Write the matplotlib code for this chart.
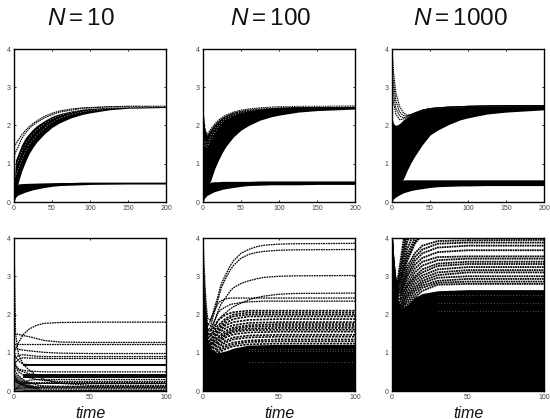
import numpy as np
import matplotlib
matplotlib.use('Agg')
import matplotlib.pyplot as plt

plt.rcParams['font.family'] = 'Liberation Sans'
plt.rcParams['mathtext.fontset'] = 'custom'
plt.rcParams['mathtext.rm'] = 'Liberation Sans'
plt.rcParams['mathtext.it'] = 'Liberation Sans:italic'

# time grids
t_top = [0, 2, 5, 10, 15, 20, 25, 30, 40, 50, 60, 75, 90, 100, 125, 150, 200]
t_low = [0, 1, 3, 6, 10, 15, 20, 30, 50, 100]
t_fine = [0, 1, 2, 3, 5, 7, 10, 12, 15, 18, 20, 25, 30, 35, 40, 50, 60, 100]

# top row: envelopes of the two bands
n10_upper_hi = [0.4, 1.1, 1.25, 1.5, 1.68, 1.8, 1.91, 2.0, 2.13, 2.24, 2.31, 2.38, 2.43, 2.45, 2.48, 2.49, 2.5]
n10_upper_lo = [0.3, 0.35, 0.47, 0.8, 1.05, 1.27, 1.43, 1.57, 1.78, 1.95, 2.07, 2.2, 2.29, 2.33, 2.41, 2.45, 2.47]
n10_lower_hi = [0.3, 0.4, 0.47, 0.48, 0.485, 0.49, 0.49, 0.495, 0.5, 0.505, 0.51, 0.51, 0.52, 0.52, 0.52, 0.52, 0.52]
n10_lower_lo = [0, 0.12, 0.18, 0.22, 0.26, 0.29, 0.32, 0.34, 0.38, 0.41, 0.43, 0.44, 0.45, 0.46, 0.465, 0.47, 0.47]
n10_curves = [
    [1.45, 1.5, 1.6, 1.75, 1.87, 1.97, 2.05, 2.12, 2.24, 2.32, 2.38, 2.43, 2.46, 2.47, 2.49, 2.5, 2.5],
    [1.2, 1.3, 1.42, 1.65, 1.8, 1.92, 2.01, 2.08, 2.2, 2.28, 2.35, 2.4, 2.45, 2.46, 2.49, 2.5, 2.5],
]
n10_specks = [
    [0.9, 0.95, 1.05, 1.3, 1.5, 1.65, 1.77, 1.88, 2.05, 2.17, 2.26, 2.34, 2.41, 2.43, 2.47, 2.49, 2.5],
    [0.6, 0.7, 0.8, 1.1, 1.32, 1.5, 1.63, 1.75, 1.93, 2.08, 2.19, 2.29, 2.36, 2.39, 2.45, 2.47, 2.49],
]

n100_upper_hi = [2.4, 1.95, 1.75, 1.9, 2.03, 2.13, 2.21, 2.27, 2.35, 2.4, 2.43, 2.46, 2.48, 2.49, 2.5, 2.5, 2.51]
n100_upper_lo = [0.3, 0.35, 0.42, 0.55, 0.85, 1.08, 1.28, 1.45, 1.7, 1.88, 2.0, 2.14, 2.23, 2.27, 2.35, 2.39, 2.43]
n100_lower_hi = [0.3, 0.4, 0.48, 0.52, 0.53, 0.53, 0.54, 0.54, 0.54, 0.54, 0.54, 0.55, 0.55, 0.55, 0.55, 0.55, 0.55]
n100_lower_lo = [0, 0.1, 0.17, 0.22, 0.27, 0.3, 0.33, 0.35, 0.38, 0.41, 0.43, 0.44, 0.45, 0.45, 0.45, 0.46, 0.46]
n100_specks = [
    [1.5, 1.6, 1.5, 1.72, 1.9, 2.03, 2.12, 2.2, 2.3, 2.36, 2.4, 2.44, 2.47, 2.48, 2.5, 2.5, 2.5],
    [1.4, 1.5, 1.42, 1.62, 1.8, 1.95, 2.06, 2.15, 2.26, 2.33, 2.38, 2.42, 2.46, 2.47, 2.49, 2.5, 2.5],
]

n1000_upper_hi = [2.2, 2.05, 2.0, 2.05, 2.15, 2.22, 2.28, 2.33, 2.4, 2.44, 2.46, 2.48, 2.49, 2.5, 2.51, 2.52, 2.52]
n1000_upper_lo = [0.3, 0.35, 0.42, 0.5, 0.6, 0.83, 1.03, 1.2, 1.5, 1.75, 1.88, 2.03, 2.15, 2.2, 2.3, 2.35, 2.41]
n1000_lower_hi = [0.3, 0.4, 0.48, 0.55, 0.58, 0.58, 0.58, 0.58, 0.58, 0.58, 0.58, 0.58, 0.58, 0.58, 0.58, 0.58, 0.58]
n1000_lower_lo = [0, 0.08, 0.13, 0.19, 0.24, 0.27, 0.3, 0.32, 0.35, 0.38, 0.4, 0.41, 0.42, 0.42, 0.43, 0.43, 0.43]
n1000_curves = [
    [4.0, 3.4, 2.85, 2.5, 2.33, 2.27, 2.29, 2.33, 2.4, 2.44, 2.46, 2.48, 2.49, 2.5, 2.51, 2.52, 2.52],
    [3.6, 3.1, 2.65, 2.35, 2.26, 2.25, 2.28, 2.32, 2.4, 2.44, 2.46, 2.48, 2.49, 2.5, 2.51, 2.52, 2.52],
    [3.2, 2.85, 2.45, 2.25, 2.2, 2.23, 2.28, 2.32, 2.4, 2.44, 2.46, 2.48, 2.49, 2.5, 2.51, 2.52, 2.52],
    [2.9, 2.6, 2.3, 2.15, 2.17, 2.22, 2.27, 2.32, 2.39, 2.44, 2.46, 2.48, 2.49, 2.5, 2.51, 2.52, 2.52],
]

# bottom row: black mass at the bottom, single curves above it
n10_mass = [0.5, 0.45, 0.38, 0.3, 0.2, 0.1, 0, 0, 0, 0]
n10_band_t = [6, 100]
n10_band_lo = [0.33, 0.66, 0.18, 0.0]
n10_band_hi = [0.45, 0.7, 0.22, 0.03]
n10_steady = [
    [1.0, 1.1, 1.27, 1.47, 1.62, 1.72, 1.77, 1.79, 1.8, 1.8],
    [1.5, 1.49, 1.48, 1.45, 1.42, 1.37, 1.32, 1.28, 1.27, 1.27],
    [1.22, 1.22, 1.22, 1.22, 1.22, 1.22, 1.22, 1.22, 1.22, 1.22],
    [1.1, 1.1, 1.09, 1.07, 1.05, 1.03, 1.01, 0.99, 0.98, 0.98],
    [0.8, 0.86, 0.93, 0.95, 0.93, 0.91, 0.9, 0.9, 0.9, 0.9],
    [0.7, 0.75, 0.83, 0.87, 0.86, 0.86, 0.85, 0.85, 0.85, 0.85],
    [1.0, 0.9, 0.78, 0.7, 0.69, 0.69, 0.69, 0.69, 0.69, 0.69],
    [0.7, 0.65, 0.58, 0.54, 0.52, 0.51, 0.5, 0.5, 0.5, 0.5],
    [0.3, 0.28, 0.25, 0.23, 0.22, 0.22, 0.22, 0.22, 0.22, 0.22],
    [0.3, 0.26, 0.2, 0.16, 0.13, 0.12, 0.12, 0.12, 0.12, 0.12],
    [0.05, 0.06, 0.07, 0.08, 0.09, 0.09, 0.09, 0.09, 0.09, 0.09],
    [4.0, 1.5, 0.95, 0.7, 0.55, 0.4, 0.3, 0.2, 0.15, 0.15],
    [0.9, 0.7, 0.55, 0.5, 0.45, 0.42, 0.4, 0.4, 0.4, 0.4],
    [0.8, 0.6, 0.5, 0.42, 0.35, 0.3, 0.27, 0.25, 0.25, 0.25],
    [0.02, 0.05, 0.12, 0.22, 0.28, 0.3, 0.3, 0.3, 0.3, 0.3],
    [0.6, 0.5, 0.4, 0.3, 0.22, 0.16, 0.13, 0.12, 0.12, 0.12],
    [0.45, 0.35, 0.25, 0.17, 0.12, 0.09, 0.08, 0.08, 0.08, 0.08],
    [0.35, 0.28, 0.2, 0.14, 0.09, 0.06, 0.05, 0.05, 0.05, 0.05],
]

n100_mass = [3.0, 2.2, 1.35, 1.05, 1.0, 1.05, 1.12, 1.2, 1.22, 1.22]
n100_high = [
    [4.0, 3.0, 2.3, 1.9, 1.85, 2.1, 2.5, 2.8, 3.05, 3.28, 3.4, 3.6, 3.7, 3.77, 3.81, 3.84, 3.85, 3.86],
    [3.5, 2.7, 2.1, 1.75, 1.7, 2.0, 2.4, 2.7, 2.95, 3.17, 3.28, 3.47, 3.57, 3.62, 3.65, 3.68, 3.69, 3.7],
    [3.0, 2.4, 1.9, 1.6, 1.55, 1.75, 2.1, 2.28, 2.45, 2.62, 2.7, 2.81, 2.88, 2.93, 2.97, 3.0, 3.01, 3.02],
    [2.8, 2.3, 1.85, 1.55, 1.45, 1.6, 1.85, 1.95, 2.05, 2.15, 2.2, 2.3, 2.38, 2.44, 2.48, 2.53, 2.55, 2.56],
    [2.7, 2.2, 1.9, 1.7, 1.85, 2.05, 2.3, 2.36, 2.41, 2.43, 2.43, 2.43, 2.43, 2.43, 2.43, 2.43, 2.43, 2.43],
    [2.6, 2.1, 1.8, 1.6, 1.65, 1.8, 2.05, 2.13, 2.2, 2.26, 2.28, 2.31, 2.33, 2.34, 2.35, 2.35, 2.35, 2.35],
]
n100_steady = [
    [2.4, 2.0, 1.6, 1.6, 1.85, 2.0, 2.06, 2.1, 2.1, 2.1],
    [2.3, 1.95, 1.5, 1.5, 1.72, 1.9, 2.0, 2.05, 2.05, 2.05],
    [2.2, 1.9, 1.5, 1.45, 1.65, 1.85, 1.95, 2.0, 2.0, 2.0],
    [2.2, 1.85, 1.45, 1.4, 1.6, 1.78, 1.88, 1.95, 1.95, 1.95],
    [2.1, 1.8, 1.4, 1.35, 1.55, 1.72, 1.8, 1.86, 1.88, 1.88],
    [2.1, 1.75, 1.4, 1.3, 1.5, 1.65, 1.72, 1.78, 1.8, 1.8],
    [2.0, 1.7, 1.35, 1.25, 1.42, 1.58, 1.66, 1.72, 1.75, 1.75],
    [2.0, 1.65, 1.3, 1.25, 1.38, 1.52, 1.62, 1.68, 1.7, 1.7],
    [1.9, 1.6, 1.3, 1.2, 1.32, 1.48, 1.58, 1.63, 1.65, 1.65],
    [1.9, 1.6, 1.25, 1.15, 1.3, 1.45, 1.54, 1.59, 1.6, 1.6],
    [1.8, 1.55, 1.25, 1.15, 1.25, 1.4, 1.48, 1.53, 1.55, 1.55],
    [1.8, 1.5, 1.2, 1.1, 1.2, 1.32, 1.4, 1.45, 1.47, 1.47],
    [1.7, 1.45, 1.2, 1.05, 1.15, 1.27, 1.35, 1.4, 1.42, 1.42],
    [1.6, 1.4, 1.15, 1.0, 1.1, 1.2, 1.27, 1.32, 1.35, 1.35],
    [1.6, 1.35, 1.1, 1.0, 1.05, 1.15, 1.22, 1.28, 1.3, 1.3],
    [1.5, 1.3, 1.05, 0.95, 1.0, 1.1, 1.17, 1.22, 1.24, 1.24],
]

n1000_mass = [4.0, 3.3, 2.45, 2.15, 2.25, 2.45, 2.55, 2.62, 2.65, 2.65]
n1000_steady = [
    [4.0, 3.4, 2.7, 3.5, 4.6, 4.6, 4.6, 4.6, 4.6, 4.6],
    [4.0, 3.4, 2.7, 3.35, 4.3, 4.6, 4.6, 4.6, 4.6, 4.6],
    [4.0, 3.35, 2.65, 3.1, 3.9, 4.4, 4.6, 4.6, 4.6, 4.6],
    [4.0, 3.3, 2.6, 2.95, 3.55, 4.0, 4.3, 4.6, 4.6, 4.6],
    [4.0, 3.3, 2.6, 2.9, 3.45, 3.9, 4.15, 4.4, 4.6, 4.6],
    [4.0, 3.4, 2.65, 3.2, 4.1, 4.6, 4.6, 4.6, 4.6, 4.6],
    [4.0, 3.4, 2.65, 3.0, 3.7, 4.2, 4.6, 4.6, 4.6, 4.6],
    [4.0, 3.3, 2.6, 2.85, 3.4, 3.85, 4.1, 4.4, 4.6, 4.6],
    [4.0, 3.3, 2.55, 2.75, 3.25, 3.6, 3.8, 3.92, 3.94, 3.95],
    [3.9, 3.3, 2.55, 2.7, 3.15, 3.5, 3.7, 3.85, 3.88, 3.88],
    [3.9, 3.2, 2.5, 2.65, 3.05, 3.4, 3.6, 3.75, 3.8, 3.8],
    [3.8, 3.2, 2.5, 2.6, 3.0, 3.3, 3.48, 3.63, 3.68, 3.68],
    [3.8, 3.1, 2.45, 2.55, 2.9, 3.2, 3.38, 3.5, 3.52, 3.52],
    [3.7, 3.1, 2.45, 2.5, 2.8, 3.1, 3.28, 3.42, 3.46, 3.46],
    [3.7, 3.0, 2.4, 2.45, 2.75, 3.0, 3.18, 3.33, 3.38, 3.38],
    [3.6, 3.0, 2.4, 2.4, 2.7, 2.95, 3.1, 3.27, 3.32, 3.32],
    [3.6, 2.9, 2.35, 2.35, 2.62, 2.88, 3.02, 3.18, 3.24, 3.24],
    [3.5, 2.9, 2.35, 2.3, 2.55, 2.8, 2.95, 3.1, 3.16, 3.16],
    [3.5, 2.8, 2.3, 2.25, 2.5, 2.72, 2.88, 3.03, 3.1, 3.1],
    [3.4, 2.8, 2.3, 2.2, 2.45, 2.66, 2.82, 2.96, 3.0, 3.0],
    [3.4, 2.7, 2.25, 2.15, 2.38, 2.6, 2.76, 2.88, 2.93, 2.93],
    [3.3, 2.7, 2.25, 2.15, 2.32, 2.52, 2.7, 2.83, 2.86, 2.86],
    [3.3, 2.6, 2.2, 2.1, 2.25, 2.45, 2.62, 2.78, 2.8, 2.8],
]

# pale flecks left inside the black mass of the last two panels
flecks_t = [30, 100]
n100_flecks = [1.1, 1.05, 0.75]
n1000_flecks = [2.5, 2.3, 2.1]

# tick labels
y_ticks = [0, 1, 2, 3, 4]
x_ticks_top = [0, 50, 100, 150, 200]
x_ticks_low = [0, 50, 100]
titles = ['$N=10$', '$N=100$', '$N=1000$']

fig = plt.figure(figsize=(5.5, 4.19), dpi=100)
W, H = 550.0, 419.0
lefts = [14, 203, 392]
dash = (0, (1.4, 0.6))


def panel(left, top, bottom, xlim, xticks):
    ax = fig.add_axes([left / W, 1 - bottom / H, 152 / W, (bottom - top) / H])
    ax.set_xlim(xlim)
    ax.set_ylim(0, 4)
    ax.set_xticks(xticks)
    ax.set_yticks(y_ticks)
    ax.tick_params(direction='in', top=True, right=True, length=1.5, width=0.6,
                   labelsize=5, pad=2.5, labelcolor='#444444')
    for s in ax.spines.values():
        s.set_linewidth(1.0)
        s.set_zorder(5)
    return ax


# top row
top_sets = [
    (n10_upper_hi, n10_upper_lo, n10_lower_hi, n10_lower_lo, n10_curves, n10_specks),
    (n100_upper_hi, n100_upper_lo, n100_lower_hi, n100_lower_lo, [n100_upper_hi], n100_specks),
    (n1000_upper_hi, n1000_upper_lo, n1000_lower_hi, n1000_lower_lo, n1000_curves, []),
]
for left, row in zip(lefts, top_sets):
    up_hi, up_lo, low_hi, low_lo, curves, specks = row
    ax = panel(left, 49, 202, (0, 200), x_ticks_top)
    ax.fill_between(t_top, up_lo, up_hi, color='black', lw=0)
    ax.fill_between(t_top, low_lo, low_hi, color='black', lw=0)
    for c in curves:
        ax.plot(t_top, c, color='black', lw=0.8, ls=dash)
    for c in specks:
        ax.plot(t_top, c, color='white', lw=0.5, ls=(0, (1, 3)))

# bottom row
ax = panel(lefts[0], 238, 391, (0, 100), x_ticks_low)
ax.fill_between(t_low, 0, n10_mass, color='black', alpha=0.6, lw=0)
for lo, hi in zip(n10_band_lo, n10_band_hi):
    ax.fill_between(n10_band_t, lo, hi, color='#111111', lw=0)
for c in n10_steady:
    ax.plot(t_low, c, color='black', lw=0.9, ls=dash)

ax = panel(lefts[1], 238, 391, (0, 100), x_ticks_low)
ax.fill_between(t_low, 0, n100_mass, color='black', lw=0)
for c in n100_high:
    ax.plot(t_fine, c, color='black', lw=0.9, ls=dash)
for c in n100_steady:
    ax.plot(t_low, c, color='black', lw=1.2, ls=dash)
for y in n100_flecks:
    ax.plot(flecks_t, [y, y], color='white', lw=0.4, ls=(0, (1, 4)))

ax = panel(lefts[2], 238, 391, (0, 100), x_ticks_low)
ax.fill_between(t_low, 0, n1000_mass, color='black', lw=0)
for c in n1000_steady:
    ax.plot(t_low, c, color='black', lw=1.3, ls=(0, (1.0, 0.35)))
for y in n1000_flecks:
    ax.plot(flecks_t, [y, y], color='white', lw=0.4, ls=(0, (1, 4)))

# titles and axis labels sit by pixel position
for x, title in zip([81, 271, 460], titles):
    fig.text(x / W, 1 - 25 / H, title, fontsize=17.5, color='#111111', ha='center', va='baseline')
for x in [90, 279, 468]:
    fig.text(x / W, 1 - 417.5 / H, 'time', fontsize=11.5, style='italic', color='#111111', ha='center', va='baseline')

fig.savefig('out.png', dpi=100)
